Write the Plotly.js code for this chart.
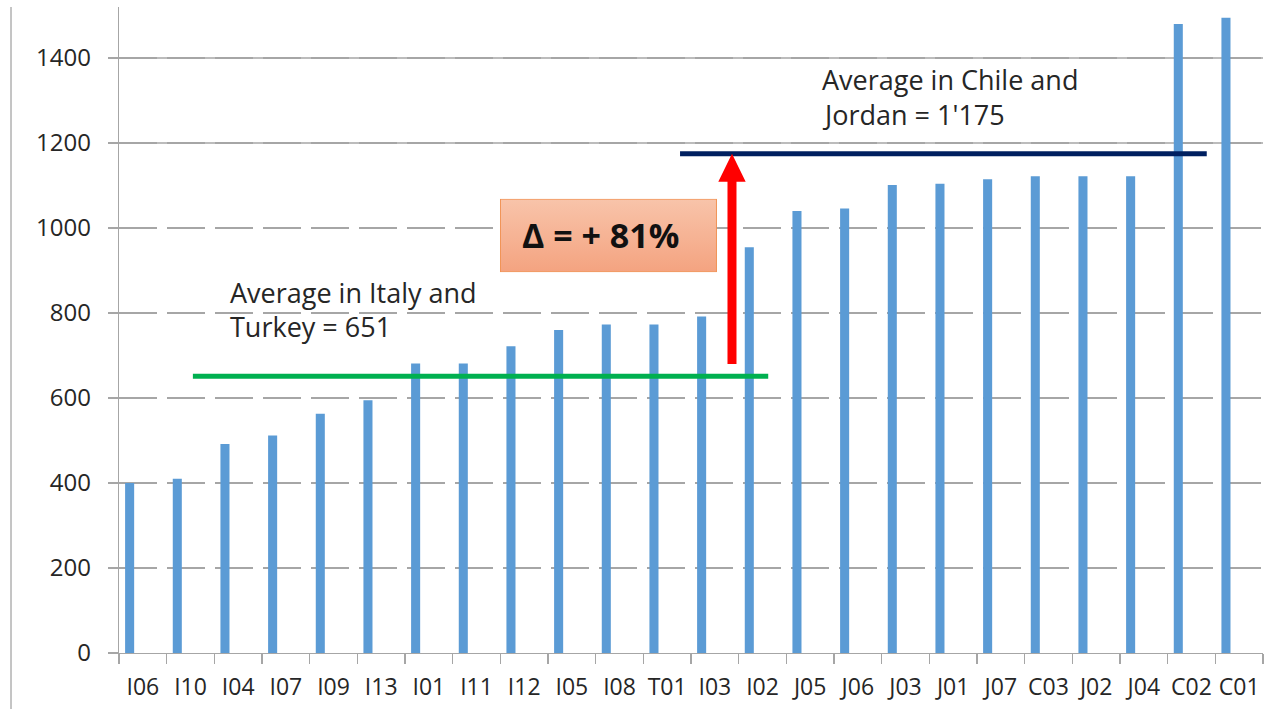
<!DOCTYPE html>
<html>
<head>
<meta charset="utf-8">
<script src="https://cdn.plot.ly/plotly-3.0.1.min.js"></script>
<style>
  html, body { margin: 0; padding: 0; background: #ffffff; }
  #chart { width: 1287px; height: 709px; }
</style>
</head>
<body>
<div id="chart"></div>
<script>
// Sites, sorted by value
const categories = ['I06', 'I10', 'I04', 'I07', 'I09', 'I13', 'I01', 'I11', 'I12', 'I05', 'I08', 'T01',
                    'I03', 'I02', 'J05', 'J06', 'J03', 'J01', 'J07', 'C03', 'J02', 'J04', 'C02', 'C01'];
const values = [400, 410, 492, 512, 563, 595, 681, 681, 722, 760, 773, 773,
                792, 955, 1040, 1046, 1101, 1104, 1115, 1122, 1122, 1122, 1480, 1495];

// Group averages shown as reference lines, and the stated increase between them
const italyTurkeyAvg = 651;
const chileJordanAvg = 1175;
const deltaPct = 81;

const yTicks = [0, 200, 400, 600, 800, 1000, 1200, 1400];

const FONT = '"Open Sans", "DejaVu Sans", sans-serif';
const TEXT = '#262626';
const GRID = '#a6a6a6';

const trace = {
  type: 'bar',
  x: categories,
  y: values,
  width: 0.19,
  offset: -0.372,
  marker: { color: '#5B9BD5', line: { width: 0 } },
  hoverinfo: 'x+y'
};

// Gradient fill for the delta callout box
const boxSvg = "<svg xmlns='http://www.w3.org/2000/svg' width='217' height='74' preserveAspectRatio='none'>" +
  "<defs><linearGradient id='g' x1='0' y1='0' x2='0' y2='1'>" +
  "<stop offset='0' stop-color='#F8C4AA'/><stop offset='1' stop-color='#F4A380'/>" +
  "</linearGradient></defs>" +
  "<rect x='0.5' y='0.5' width='216' height='73' fill='url(#g)' stroke='#F19152' stroke-width='1'/></svg>";

const layout = {
  width: 1287,
  height: 709,
  margin: { l: 119, r: 24, t: 7, b: 56 },
  paper_bgcolor: '#ffffff',
  plot_bgcolor: '#ffffff',
  showlegend: false,
  font: { family: FONT, size: 24, color: TEXT },
  xaxis: {
    type: 'category',
    range: [-0.5, categories.length - 0.5],
    tickson: 'boundaries',
    ticks: 'outside',
    ticklen: 10,
    tickwidth: 1.3,
    tickcolor: GRID,
    tickangle: 0,
    ticklabelstandoff: 13,
    showline: true,
    linecolor: GRID,
    linewidth: 1.3,
    showgrid: false,
    tickfont: { family: FONT, size: 23, color: TEXT },
    fixedrange: true
  },
  yaxis: {
    range: [0, 1520],
    tickvals: yTicks,
    ticks: 'outside',
    ticklen: 10,
    tickwidth: 1.3,
    tickcolor: GRID,
    showline: true,
    linecolor: GRID,
    linewidth: 1.3,
    showgrid: true,
    gridcolor: GRID,
    gridwidth: 1.3,
    griddash: '38px,10px',
    zeroline: false,
    ticklabelstandoff: 12,
    tickfont: { family: FONT, size: 24, color: TEXT },
    fixedrange: true
  },
  shapes: [
    // solid upper gridlines
    { type: 'line', xref: 'paper', x0: 0, x1: 1, yref: 'y', y0: 1200, y1: 1200,
      layer: 'below', line: { color: GRID, width: 1.3 } },
    { type: 'line', xref: 'paper', x0: 0, x1: 1, yref: 'y', y0: 1400, y1: 1400,
      layer: 'below', line: { color: GRID, width: 1.3 } },
    // outer frame line on the left
    { type: 'line', xref: 'paper', x0: -0.0944, x1: -0.0944, yref: 'paper', y0: -0.09, y1: 1,
      line: { color: GRID, width: 1.3 } },
    // Italy & Turkey average
    { type: 'line', xref: 'x', x0: 1.05, x1: 13.12, yref: 'y', y0: italyTurkeyAvg, y1: italyTurkeyAvg,
      layer: 'above', line: { color: '#00B050', width: 5 } },
    // Chile & Jordan average
    { type: 'line', xref: 'x', x0: 11.27, x1: 22.32, yref: 'y', y0: chileJordanAvg, y1: chileJordanAvg,
      layer: 'above', line: { color: '#002060', width: 5 } },
    // red arrow between the two averages
    { type: 'path', xref: 'x', xsizemode: 'pixel', xanchor: 12.36, yref: 'y',
      path: 'M-4.5,680 L4.5,680 L4.5,1109 L13.7,1109 L0,' + chileJordanAvg + ' L-13.7,1109 L-4.5,1109 Z',
      fillcolor: '#FF0000', line: { width: 0 }, layer: 'above' }
  ],
  images: [
    { source: 'data:image/svg+xml;charset=utf-8,' + encodeURIComponent(boxSvg),
      xref: 'paper', yref: 'paper', x: 0.3330, y: 0.7033, sizex: 0.1897, sizey: 0.1140,
      xanchor: 'left', yanchor: 'top', sizing: 'stretch', layer: 'above' }
  ],
  annotations: [
    { xref: 'x', yref: 'y', x: 1.78, y: 848, xanchor: 'left', yanchor: 'middle', showarrow: false,
      text: 'Average in Italy and', font: { family: FONT, size: 27, color: TEXT } },
    { xref: 'x', yref: 'y', x: 1.78, y: 769, xanchor: 'left', yanchor: 'middle', showarrow: false,
      text: 'Turkey = ' + italyTurkeyAvg, font: { family: FONT, size: 27, color: TEXT } },
    { xref: 'x', yref: 'y', x: 14.21, y: 1350, xanchor: 'left', yanchor: 'middle', showarrow: false,
      text: 'Average in Chile and', font: { family: FONT, size: 27, color: TEXT } },
    { xref: 'x', yref: 'y', x: 14.21, y: 1268, xanchor: 'left', yanchor: 'middle', showarrow: false,
      text: "Jordan = 1'175", font: { family: FONT, size: 27, color: TEXT } },
    { xref: 'x', yref: 'y', x: 7.91, y: 983, xanchor: 'left', yanchor: 'middle', showarrow: false,
      text: '<b>\u0394 = + ' + deltaPct + '%</b>', font: { family: FONT, size: 34, color: '#111111' } }
  ]
};

Plotly.newPlot('chart', [trace], layout, { displayModeBar: false, staticPlot: true });
</script>
</body>
</html>
